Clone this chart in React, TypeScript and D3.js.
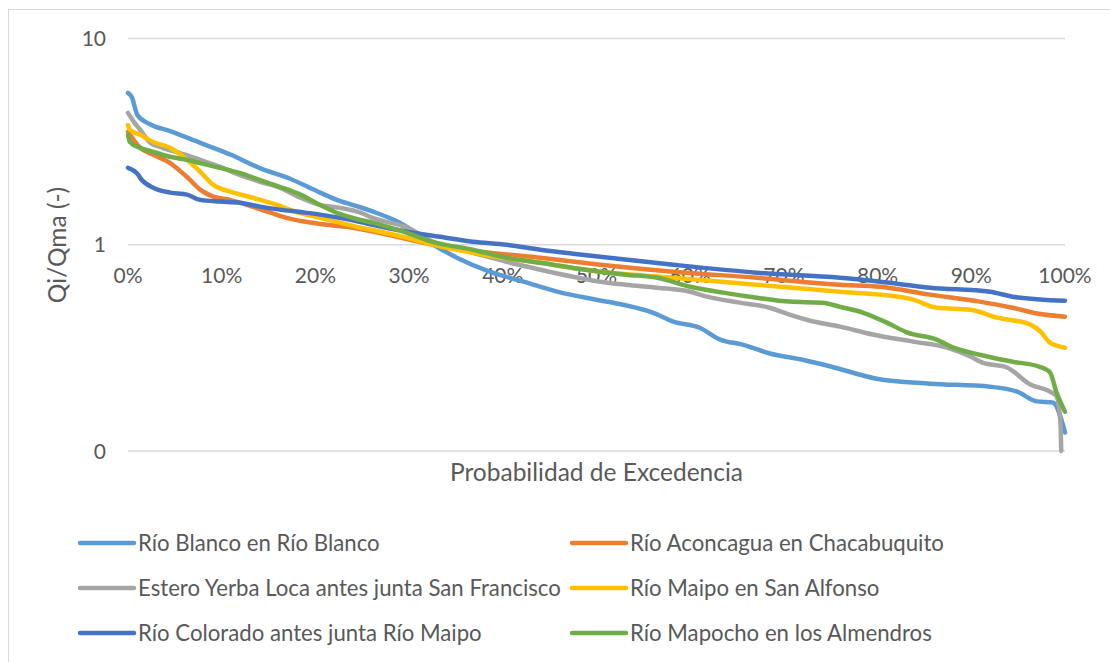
import React from "react";
import * as d3 from "d3";

// ---- Data (probability of exceedance %, Qi/Qma) ----
const seriesNames = [
  "Río Blanco en Río Blanco",
  "Río Aconcagua en Chacabuquito",
  "Estero Yerba Loca antes junta San Francisco",
  "Río Maipo en San Alfonso",
  "Río Colorado antes junta Río Maipo",
  "Río Mapocho en los Almendros",
];
const seriesColors = ["#5B9BD5", "#ED7D31", "#A5A5A5", "#FFC000", "#4472C4", "#70AD47"];

const rioBlanco: [number, number][] = [
  [0, 5.45], [0.4, 5.2], [1, 4.26], [2.3, 3.85], [4.5, 3.56], [7.7, 3.12], [11, 2.73], [14, 2.36],
  [17.3, 2.09], [20.5, 1.79], [22.6, 1.63], [24.8, 1.52], [26.1, 1.45], [29, 1.28], [32.6, 1.0],
  [35.1, 0.865], [38.6, 0.74], [42.2, 0.662], [45.8, 0.593], [50.1, 0.54], [52.8, 0.512],
  [56, 0.469], [58.2, 0.424], [61, 0.396], [63.2, 0.347], [65.6, 0.328], [68.5, 0.297],
  [72, 0.277], [75, 0.257], [79.9, 0.224], [85.6, 0.212], [92, 0.205], [94.9, 0.194],
  [97, 0.174], [98.7, 0.172], [100, 0.123],
];
const rioAconcagua: [number, number][] = [
  [0, 3.53], [1.3, 2.95], [2.7, 2.73], [4.5, 2.49], [6.3, 2.13], [7.7, 1.85], [9.1, 1.71],
  [10.9, 1.65], [13.3, 1.53], [15.2, 1.43], [16.9, 1.35], [19.1, 1.29], [21.2, 1.25], [24, 1.21],
  [30, 1.06], [33, 0.99], [38.6, 0.915], [44, 0.865], [50.4, 0.8], [58.2, 0.74], [67.1, 0.692],
  [76, 0.64], [80.3, 0.626], [85.6, 0.573], [90.9, 0.53], [94.4, 0.495], [97, 0.464], [100, 0.448],
];
const esteroYerbaLoca: [number, number][] = [
  [0, 4.36], [0.7, 3.9], [1.3, 3.61], [2.3, 3.15], [3.7, 2.95], [5.5, 2.79], [7.7, 2.58],
  [9.8, 2.39], [11.9, 2.18], [14.1, 2.02], [16.2, 1.89], [18.4, 1.69], [20.5, 1.56], [22.6, 1.51],
  [24.8, 1.43], [26.1, 1.35], [29.8, 1.21], [32.6, 1.03], [36.8, 0.915], [40.4, 0.827], [44, 0.757],
  [47.5, 0.7], [50.4, 0.662], [53.1, 0.64], [56.5, 0.619], [60, 0.592], [61.8, 0.56], [65.3, 0.524],
  [68.5, 0.495], [70.6, 0.458], [72.8, 0.428], [76, 0.401], [79.5, 0.367], [83.8, 0.339],
  [87.4, 0.317], [89.9, 0.287], [91.2, 0.268], [93.8, 0.254], [96.3, 0.21], [98.4, 0.194],
  [99.1, 0.184], [99.5, 0.14], [99.6, 0.1],
];
const rioMaipo: [number, number][] = [
  [0, 3.81], [0.2, 3.61], [1.3, 3.41], [2.7, 3.15], [4.5, 2.95], [6.3, 2.58], [7.7, 2.26],
  [9.1, 1.95], [10.9, 1.81], [13.3, 1.69], [15.9, 1.56], [18, 1.44], [20.5, 1.35], [22.6, 1.28],
  [24.8, 1.21], [26.1, 1.18], [29.8, 1.08], [32.6, 1.0], [36.8, 0.915], [44, 0.818], [50.4, 0.74],
  [58.2, 0.692], [67.1, 0.64], [76, 0.592], [80.3, 0.573], [83.8, 0.542], [86.3, 0.495],
  [89.9, 0.484], [92.8, 0.443], [96.3, 0.41], [97.4, 0.379], [98.4, 0.335], [100, 0.317],
];
const rioColorado: [number, number][] = [
  [0, 2.36], [1.1, 2.18], [1.3, 2.11], [2.7, 1.89], [4.5, 1.79], [6.3, 1.75], [7.7, 1.65],
  [9.8, 1.62], [11.9, 1.6], [14.1, 1.53], [16.2, 1.48], [18.4, 1.44], [20.5, 1.4], [22.6, 1.35],
  [24.8, 1.29], [26.1, 1.25], [29.8, 1.156], [33.3, 1.093], [36.8, 1.034], [40.4, 1.0],
  [44, 0.946], [47.5, 0.905], [50.4, 0.875], [58.2, 0.8], [67.1, 0.732], [76, 0.692],
  [80.3, 0.662], [85.6, 0.619], [92, 0.592], [94.4, 0.56], [100, 0.535],
];
const rioMapocho: [number, number][] = [
  [0, 3.41], [0.2, 3.15], [1.3, 2.95], [2.7, 2.82], [4.5, 2.67], [6.3, 2.58], [7.7, 2.49],
  [9.8, 2.36], [11.9, 2.23], [14.1, 2.06], [16.2, 1.91], [18.4, 1.75], [20.5, 1.56], [22.6, 1.41],
  [24.8, 1.32], [26.1, 1.28], [29.8, 1.14], [32.6, 1.03], [36.8, 0.946], [40.4, 0.865], [44, 0.818],
  [50.4, 0.74], [53.1, 0.716], [56.5, 0.692], [60, 0.626], [63.5, 0.586], [67.1, 0.554],
  [70.6, 0.53], [74.1, 0.524], [76, 0.5], [78.4, 0.469], [81, 0.419], [83.2, 0.375], [86.3, 0.347],
  [88.1, 0.317], [90.9, 0.293], [94.4, 0.271], [97.3, 0.256], [98.4, 0.24], [99.1, 0.192],
  [100, 0.155],
];
const allSeries = [rioBlanco, rioAconcagua, esteroYerbaLoca, rioMaipo, rioColorado, rioMapocho];

const xTicks = [0, 10, 20, 30, 40, 50, 60, 70, 80, 90, 100];
const yTicks = [0.1, 1, 10];
const yTickLabels = ["0", "1", "10"];

const W = 1110;
const H = 662;
const FONT = "Lato, 'Open Sans', sans-serif";
const TEXT = "#595959";

export default function App() {
  const x = d3.scaleLinear().domain([0, 100]).range([128, 1065]);
  const y = d3.scaleLog().domain([0.1, 10]).range([451, 38.5]);
  const line = d3
    .line<[number, number]>()
    .x((d) => x(d[0]))
    .y((d) => y(d[1]))
    .curve(d3.curveMonotoneX);

  const legendCols = [80, 572];
  const legendRows = [543, 588, 633];

  return (
    <svg
      width={W}
      height={H}
      style={{ position: "absolute", left: 0, top: 0, background: "#fff" }}
      fontFamily={FONT}
    >
      <rect x={8.5} y={9.5} width={1200} height={700} fill="#fff" stroke="#D9D9D9" strokeWidth={1} />
      {yTicks.map((t) => (
        <line key={t} x1={x(0)} x2={x(100)} y1={y(t)} y2={y(t)} stroke="#D9D9D9" strokeWidth={1.3} />
      ))}
      {yTicks.map((t, i) => (
        <text key={t} x={106} y={y(t) + 7.5} textAnchor="end" fontSize={21} fill={TEXT}>
          {yTickLabels[i]}
        </text>
      ))}
      {xTicks.map((t) => (
        <text key={t} x={x(t)} y={283} textAnchor="middle" fontSize={21} fill={TEXT}>
          {t}%
        </text>
      ))}
      <text
        transform={`translate(66,245) rotate(-90)`}
        textAnchor="middle"
        fontSize={24.5}
        fill={TEXT}
      >
        Qi/Qma (-)
      </text>
      <text x={596.5} y={481} textAnchor="middle" fontSize={24.5} fill={TEXT}>
        Probabilidad de Excedencia
      </text>
      {allSeries.map((s, i) => (
        <path
          key={i}
          d={line(s) || ""}
          fill="none"
          stroke={seriesColors[i]}
          strokeWidth={4.5}
          strokeLinejoin="round"
          strokeLinecap="round"
        />
      ))}
      {seriesNames.map((name, i) => {
        const cx = legendCols[i % 2];
        const cy = legendRows[Math.floor(i / 2)];
        return (
          <g key={name}>
            <line x1={cx} x2={cx + 54} y1={cy} y2={cy} stroke={seriesColors[i]} strokeWidth={4.5} strokeLinecap="round" />
            <text x={cx + 58} y={cy + 8} fontSize={22.2} fill={TEXT}>
              {name}
            </text>
          </g>
        );
      })}
    </svg>
  );
}
